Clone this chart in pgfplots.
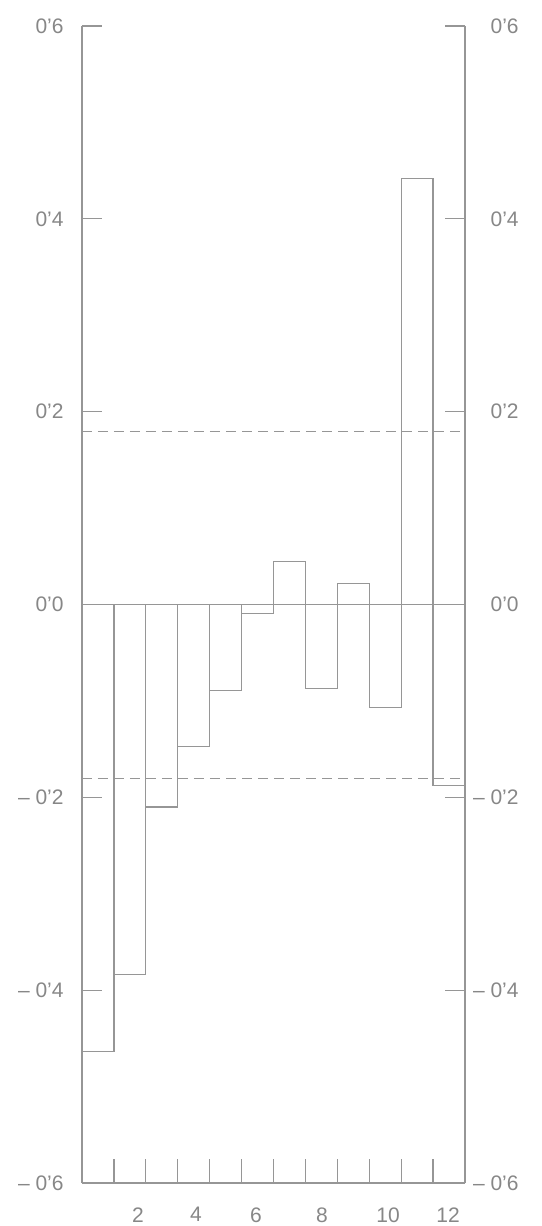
\documentclass[border=0pt]{standalone}
\usepackage{pgfplots}
\pgfplotsset{compat=1.18}
\usepackage{fontspec}
\setmainfont{Liberation Sans}
\definecolor{ln}{RGB}{150,150,150}
\definecolor{tx}{RGB}{135,135,135}
\begin{document}
\begin{tikzpicture}
\path[use as bounding box] (-41pt,-21.5pt) rectangle (229.5pt,591.5pt);
\pgfplotsset{
  base/.style={
    scale only axis, width=191.5pt, height=578.5pt,
    xmin=0.5, xmax=12.5, ymin=-0.6, ymax=0.6,
    major tick length=10pt,
    tick style={ln, line width=0.6pt},
    ytick={-0.6,-0.4,-0.2,0,0.2,0.4,0.6},
    yticklabels={– 0’6, – 0’4, – 0’2, 0’0, 0’2, 0’4, 0’6},
    every tick label/.append style={font=\fontsize{10.5}{12}\selectfont, text=tx},
  },
  nolinearrows/.style={
    axis line style={-, ln, line width=0.6pt},
    every outer x axis line/.style={-, draw=ln, line width=0.6pt},
    every outer y axis line/.style={-, draw=ln, line width=0.6pt},
    x axis line style={-, draw=ln, line width=0.6pt},
    y axis line style={-, draw=ln, line width=0.6pt},
  }
}
\begin{axis}[base,
  axis x line=bottom, axis y line=left,
  nolinearrows,
  tick align=inside,
  xtick={1.5,2.5,...,11.5}, xticklabels={},
  xtick style={ln, line width=0.6pt, /pgfplots/major tick length=12pt},
  extra x ticks={2.25,4.07,5.95,8.02,10.09,11.97},
  extra x tick labels={2,4,6,8,10,12},
  extra x tick style={major tick length=0pt, tick style={draw=none},
     xticklabel style={anchor=north, inner sep=0pt, yshift=-12pt}},
  yticklabel style={anchor=east, inner sep=0pt, xshift=-9pt},
]
\addplot[ybar interval, draw=ln, fill=none, line width=0.6pt] coordinates {
(0.5,-0.464) (1.5,-0.384) (2.5,-0.210) (3.5,-0.147) (4.5,-0.089) (5.5,-0.0095)
(6.5,0.045) (7.5,-0.087) (8.5,0.022) (9.5,-0.107) (10.5,0.442) (11.5,-0.188) (12.5,-0.188)};
\addplot[ln, line width=0.6pt] coordinates {(0.5,0) (12.5,0)};
\addplot[ln, line width=0.5pt, dash pattern=on 5pt off 3pt] coordinates {(0.5,0.179) (12.5,0.179)};
\addplot[ln, line width=0.5pt, dash pattern=on 5pt off 3pt] coordinates {(0.5,-0.180) (12.5,-0.180)};
\end{axis}
\begin{axis}[base,
  axis x line=none, axis y line=right, xtick=\empty,
  nolinearrows,
  tick align=inside,
  yticklabel style={anchor=east, inner sep=0pt, xshift=27pt},
]
\end{axis}
\end{tikzpicture}
\end{document}
